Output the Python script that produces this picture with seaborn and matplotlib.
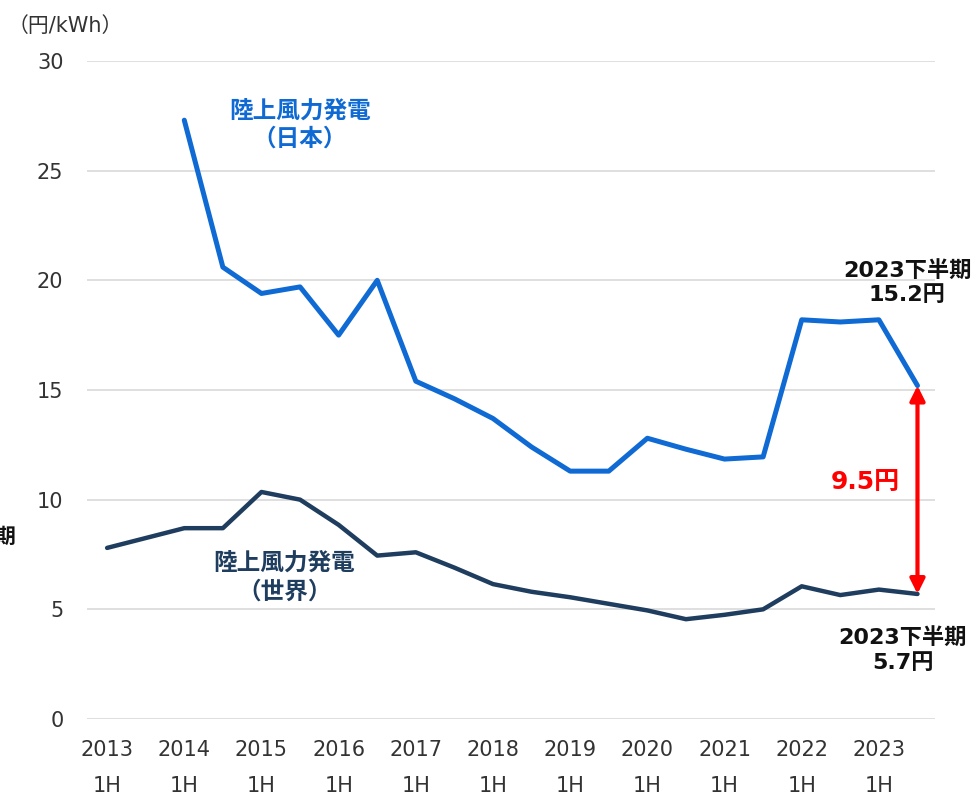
import matplotlib
matplotlib.use("Agg")
import matplotlib.pyplot as plt
import seaborn as sns
import pandas as pd
import numpy as np

periods = [f"{y}{h}" for y in range(2013, 2024) for h in ("1H", "2H")]
japan = [np.nan, np.nan, 27.3, 20.6, 19.4, 19.7, 17.5, 20.0, 15.4, 14.6, 13.7, 12.4,
         11.3, 11.3, 12.8, 12.3, 11.85, 11.95, 18.2, 18.1, 18.2, 15.2]
world = [7.8, 8.25, 8.7, 8.7, 10.35, 10.0, 8.85, 7.45, 7.6, 6.9, 6.15, 5.8,
         5.55, 5.25, 4.95, 4.55, 4.75, 5.0, 6.05, 5.65, 5.9, 5.7]
tick_years = [str(y) for y in range(2013, 2024)]
yticks = [0, 5, 10, 15, 20, 25, 30]

sns.set_theme(style="white")
plt.rcParams['font.family'] = ['Noto Sans CJK JP', 'DejaVu Sans']
MIX = ['DejaVu Sans', 'Noto Sans CJK JP']

df = pd.DataFrame({"idx": range(len(periods)), "period": periods,
                   "japan": japan, "world": world})

fig = plt.figure(figsize=(9.79, 7.98), dpi=100)
ax = fig.add_axes([0.0889, 0.099, 0.866, 0.8246])

for v in yticks:
    ax.axhline(v, color="#d9d9d9", lw=1.2, zorder=0)

sns.lineplot(data=df, x="idx", y="world", ax=ax, color="#1f3d5e", lw=3.2, zorder=3)
sns.lineplot(data=df.dropna(), x="idx", y="japan", ax=ax, color="#0f6ad4", lw=3.6, zorder=3)

ax.set_xlim(-0.52, 21.45)
ax.set_ylim(0, 30)
ax.set_yticks(yticks)
ax.set_yticklabels([str(v) for v in yticks], fontsize=15, color="#333333",
                   family="DejaVu Sans")
ax.set_xticks(range(0, 22, 2))
ax.set_xticklabels([f"{y}\n1H" for y in tick_years], fontsize=15, color="#333333",
                   linespacing=2.0, family="DejaVu Sans")
ax.tick_params(axis="y", length=0, pad=17)
ax.tick_params(axis="x", length=0, pad=15)
ax.set_xlabel("")
ax.set_ylabel("")
for s in ax.spines.values():
    s.set_visible(False)

fig.text(0.008, 0.968, "（円/kWh）", fontsize=15, color="#333333", ha="left", va="center",
         family=MIX)

# series labels
ax.text(5.0, 27.1, "陸上風力発電\n（日本）", color="#0f6ad4", fontsize=17, fontweight="bold",
        ha="center", va="center", linespacing=1.25)
ax.text(4.6, 6.45, "陸上風力発電\n（世界）", color="#1f3d5e", fontsize=17, fontweight="bold",
        ha="center", va="center", linespacing=1.25)

# end annotations
last = len(periods) - 1
ax.text(last - 0.27, 19.9, "2023下半期\n15.2円", color="#111111", fontsize=16,
        fontweight="bold", ha="center", va="center", linespacing=1.3, family=MIX)
ax.text(last - 0.38, 3.15, "2023下半期\n5.7円", color="#111111", fontsize=16,
        fontweight="bold", ha="center", va="center", linespacing=1.3, family=MIX)
ax.text(last - 1.36, 10.8, "9.5円", color="#ff0000", fontsize=18,
        fontweight="bold", ha="center", va="center", family=MIX)

ax.annotate("", xy=(last, japan[-1]), xytext=(last, world[-1]),
            arrowprops=dict(arrowstyle="<|-|>", color="#ff0000", lw=3,
                            mutation_scale=22, shrinkA=0, shrinkB=0), zorder=4)

# clipped fragment at left edge
fig.text(0.016, 0.328, "期", fontsize=15, fontweight="bold", color="#111111",
         ha="right", va="center")

fig.savefig("out.png", dpi=100)
